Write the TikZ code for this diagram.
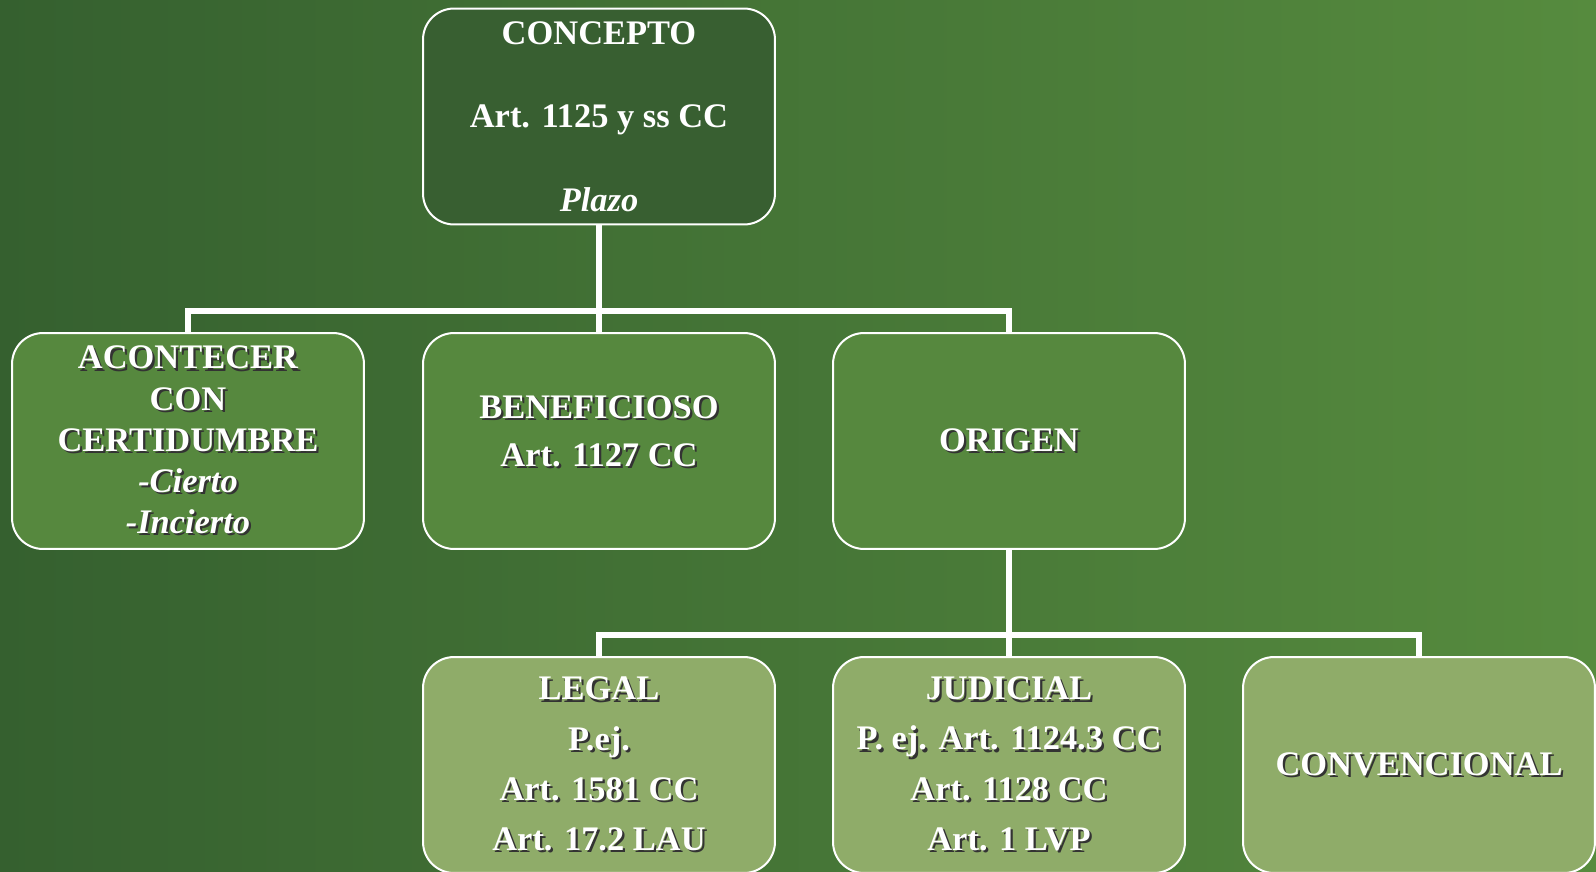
\documentclass[tikz,border=0pt]{standalone}
\usepackage{xcolor}
\usepackage{fontspec}
\setmainfont{Liberation Serif}
\usetikzlibrary{positioning}
\definecolor{bgleft}{HTML}{35602F}
\definecolor{bgright}{HTML}{568B3E}
\definecolor{topgreen}{HTML}{385F31}
\definecolor{midgreen}{HTML}{56883E}
\definecolor{lowgreen}{HTML}{8FAC69}
\newcommand{\shd}[1]{\makebox[0pt][l]{\hspace{0.045cm}\raisebox{-0.045cm}{\color{black!80}#1}}#1}
\tikzset{
  box/.style={draw=white, line width=0.04cm, rounded corners=0.62cm,
    minimum width=7.04cm, minimum height=4.32cm, inner sep=0pt,
    align=center, text=white, font=\fontsize{19.6}{23.4}\selectfont\bfseries},
  topbox/.style={box, fill=topgreen, font=\fontsize{19.6}{23.8}\selectfont\bfseries},
  midbox/.style={box, fill=midgreen},
  lowbox/.style={box, fill=lowgreen, font=\fontsize{19.6}{28.5}\selectfont\bfseries},
  link/.style={draw=white, line width=0.12cm}
}
\begin{document}
\begin{tikzpicture}[x=0.02cm, y=-0.02cm]
        \useasboundingbox (0,0) rectangle (1596,872);
        \shade[left color=bgleft, right color=bgright] (0,0) rectangle (1596,872);
        % top
        \node[topbox] (concepto) at (599,116.5) {CONCEPTO\\ \\Art. 1125 y ss CC\\ \\\textit{Plazo}};
        % second level
        \begin{scope}[every node/.style={midbox}]
        \node (acontecer) at (188,441) {\shd{ACONTECER}\\\shd{CON}\\\shd{CERTIDUMBRE}\\\shd{\textit{-Cierto}}\\\shd{\textit{-Incierto}}};
        \node[font=\fontsize{19.6}{27.3}\selectfont\bfseries, text depth=0.4cm] (beneficioso) at (599,441) {\shd{BENEFICIOSO}\\\shd{Art. 1127 CC}};
        \node (origen) at (1009,441) {\shd{ORIGEN}};
        \end{scope}
        % third level
        \begin{scope}[every node/.style={lowbox}]
        \node (legal) at (599,765) {\shd{LEGAL}\\\shd{P.ej.}\\\shd{Art. 1581 CC}\\\shd{Art. 17.2 LAU}};
        \node (judicial) at (1009,765) {\shd{JUDICIAL}\\\shd{P. ej. Art. 1124.3 CC}\\\shd{Art. 1128 CC}\\\shd{Art. 1 LVP}};
        \node (convencional) at (1419,765) {\shd{CONVENCIONAL}};
        \end{scope}
        \coordinate (busa) at (599,311);
        \coordinate (busb) at (1009,635);
        \begin{scope}[every path/.style={link}]
        \path (concepto) -- (busa);
        \path (busa) -| (acontecer);
        \path (busa) -| (origen);
        \path (busa) -- (beneficioso);
        \path (origen) -- (busb);
        \path (busb) -| (legal);
        \path (busb) -| (convencional);
        \path (busb) -- (judicial);
        \end{scope}
        \end{tikzpicture}
\end{document}
